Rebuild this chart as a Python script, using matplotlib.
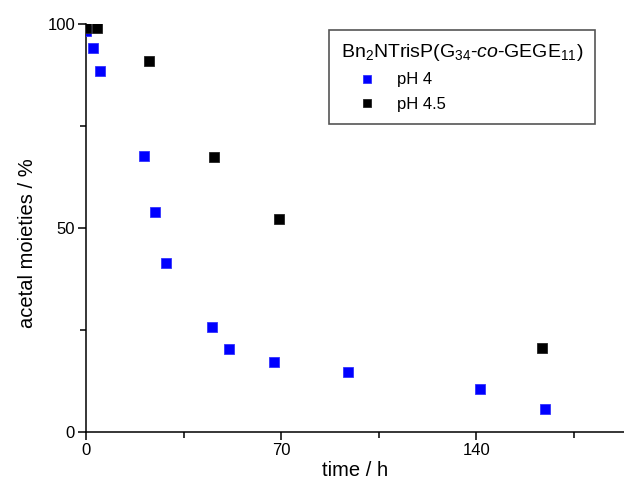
import numpy as np
import matplotlib
matplotlib.use("Agg")
import matplotlib.pyplot as plt
from matplotlib.ticker import MultipleLocator

plt.rcParams['font.family'] = ['Liberation Sans', 'DejaVu Sans']
plt.rcParams['mathtext.fontset'] = 'custom'
plt.rcParams['mathtext.rm'] = 'Liberation Sans'
plt.rcParams['mathtext.it'] = 'Liberation Sans:italic'

# pH 4 series
t_ph4 = [0, 2.4, 5.0, 20.8, 24.8, 28.7, 45.2, 51.3, 67.5, 94.0, 141.2, 164.8]
acetal_ph4 = [98.4, 94.2, 88.5, 67.6, 53.8, 41.5, 25.6, 20.4, 17.2, 14.7, 10.4, 5.6]

# pH 4.5 series
t_ph45 = [0, 3.8, 22.4, 46.0, 69.3, 163.4]
acetal_ph45 = [99.0, 99.0, 90.9, 67.3, 52.1, 20.5]

legend_title = r'Bn$_2$NTrisP(G$_{34}$-$\it{co}$-GEGE$_{11}$)'

fig = plt.figure(figsize=(6.24, 4.82), dpi=100)
ax = fig.add_axes([0.138, 0.104, 0.862, 0.846])

ax.plot(t_ph4, acetal_ph4, 's', color='#0000ff', markersize=7, markeredgewidth=0.6,
        markeredgecolor='#3333ff', label='pH 4', zorder=3)
ax.plot(t_ph45, acetal_ph45, 's', color='black', markersize=7, markeredgewidth=0.6,
        markeredgecolor='#222222', label='pH 4.5', zorder=3)

ax.set_xlim(0, 193)
ax.set_ylim(0, 100)
ax.xaxis.set_major_locator(MultipleLocator(70))
ax.xaxis.set_minor_locator(MultipleLocator(35))
ax.yaxis.set_major_locator(MultipleLocator(50))
ax.yaxis.set_minor_locator(MultipleLocator(25))

for s in ['top', 'right']:
    ax.spines[s].set_visible(False)
for s in ['left', 'bottom']:
    ax.spines[s].set_linewidth(1.1)

ax.tick_params(which='major', direction='out', length=6, width=1.1, labelsize=12, pad=2)
ax.tick_params(which='minor', direction='out', length=4, width=1.1)

ax.set_xlabel('time / h', fontsize=14.5, labelpad=2)
ax.set_ylabel('acetal moieties / %', fontsize=14.5)
ax.yaxis.set_label_coords(-0.091, 0.463)

leg = ax.legend(title=legend_title, loc='upper right', bbox_to_anchor=(0.946, 0.985),
                fontsize=12, title_fontsize=14, fancybox=False, framealpha=1,
                edgecolor='#555555', handletextpad=0.2, borderpad=0.72,
                labelspacing=0.55, handlelength=3.2, markerscale=0.8,
                borderaxespad=0)
leg._legend_box.align = 'left'
leg.get_frame().set_linewidth(1.2)

fig.savefig('out.png', dpi=100)
